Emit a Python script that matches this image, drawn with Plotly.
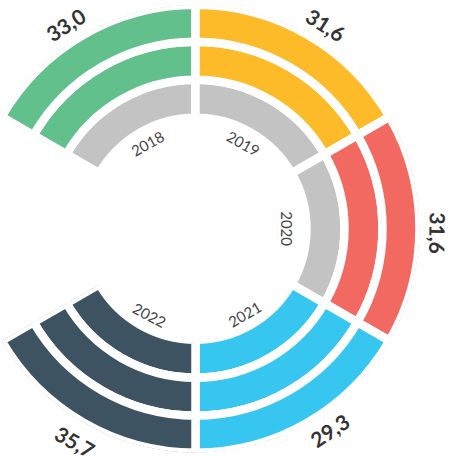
import math
import plotly.graph_objects as go

# ---------------- data ----------------
years = ["2018", "2019", "2020", "2021", "2022"]
values = [33.0, 31.6, 31.6, 29.3, 35.7]
sector_colors = ["#62C08D", "#FDBB2A", "#F26962", "#37C6F0", "#3E5361"]
inner_colored = [False, False, False, True, True]
gray = "#C2C3C2"

# ---------------- layout constants ----------------
W, H = 451, 463
CX, CY = 195.5, 228.7          # centre (px from top-left)
RMAX = 224.0                   # radial range == pixel radius
ring_edges = [111, 149, 187, 224]
sector_width = 60
centers = [120 - 60 * i for i in range(len(years))]

value_ang = [122.5, 57.5, -1.0, -56.5, -119.5]
value_dist = [242, 242, 242, 242, 245]
year_ang = [119, 61, 0, -60, -118]
year_dist = [98, 98, 92, 98, 98]

fig = go.Figure()

for k in range(3):
    base = ring_edges[k]
    thick = ring_edges[k + 1] - ring_edges[k]
    if k == 0:
        cols = [c if f else gray for c, f in zip(sector_colors, inner_colored)]
    else:
        cols = list(sector_colors)
    fig.add_trace(go.Barpolar(
        r=[thick] * len(years),
        base=[base] * len(years),
        theta=centers,
        width=[sector_width] * len(years),
        marker=dict(color=cols, line=dict(color="white", width=8.5)),
        hoverinfo="skip",
        showlegend=False,
    ))

# domain so that 1 data unit == 1 px and the centre sits at (CX, CY)
x0 = CX - RMAX * math.cos(math.radians(30))
x1 = CX + RMAX
ytop = CY - RMAX
ybot = CY + RMAX


def to_paper(ang, dist):
    a = math.radians(ang)
    px = CX + dist * math.cos(a)
    py = CY - dist * math.sin(a)
    return px / W, 1 - py / H


def tangent_angle(ang):
    if ang >= -10:
        return 90 - ang
    return -90 - ang


annotations = []
for v, a, d in zip(values, value_ang, value_dist):
    x, y = to_paper(a, d)
    annotations.append(dict(
        x=x, y=y, xref="paper", yref="paper", showarrow=False,
        text=f"{v:.1f}".replace(".", ","), textangle=tangent_angle(a),
        font=dict(family="Lato", size=21, color="#333333", weight="bold"),
        xanchor="center", yanchor="middle"))
for t, a, d in zip(years, year_ang, year_dist):
    x, y = to_paper(a, d)
    annotations.append(dict(
        x=x, y=y, xref="paper", yref="paper", showarrow=False,
        text=t, textangle=tangent_angle(a),
        font=dict(family="Lato", size=15, color="#444444"),
        xanchor="center", yanchor="middle"))

fig.update_layout(
    template="none",
    width=W, height=H,
    margin=dict(l=0, r=0, t=0, b=0),
    paper_bgcolor="white",
    plot_bgcolor="white",
    polar=dict(
        domain=dict(x=[x0 / W, x1 / W], y=[1 - ybot / H, 1 - ytop / H]),
        sector=[-150, 150],
        bgcolor="white",
        hole=0,
        radialaxis=dict(range=[0, RMAX], visible=False, showgrid=False),
        angularaxis=dict(visible=False, showgrid=False, rotation=0,
                         direction="counterclockwise"),
    ),
    annotations=annotations,
    barmode="overlay",
)

fig.write_html("out.html",
               config={"displayModeBar": False},
               post_script="document.body.style.margin='0px';document.body.style.overflow='hidden';")
